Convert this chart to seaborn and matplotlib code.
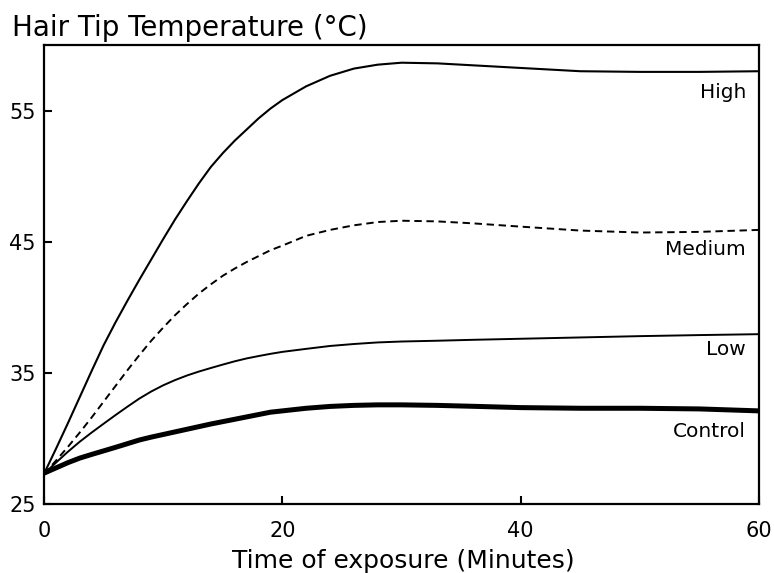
import matplotlib
matplotlib.use("Agg")
import matplotlib.pyplot as plt
import seaborn as sns
import pandas as pd

# ---- data ----
minutes = [0, 1, 2, 3, 4, 5, 6, 7, 8, 9, 10, 11, 12, 13, 14, 15, 16, 17, 18, 19, 20,
           22, 24, 26, 28, 30, 33, 36, 40, 45, 50, 55, 60]
high    = [27.3, 29.2, 31.15, 33.15, 35.15, 37.1, 38.85, 40.5, 42.1, 43.65, 45.2, 46.7, 48.1,
           49.45, 50.7, 51.75, 52.7, 53.55, 54.4, 55.15, 55.8,
           56.85, 57.65, 58.2, 58.5, 58.65, 58.6, 58.45, 58.25, 58.0, 57.95, 57.95, 58.0]
medium  = [27.3, 28.3, 29.35, 30.45, 31.6, 32.8, 34.0, 35.2, 36.35, 37.45, 38.45, 39.4, 40.25,
           41.05, 41.75, 42.4, 42.95, 43.45, 43.9, 44.35, 44.7,
           45.45, 45.9, 46.25, 46.5, 46.6, 46.55, 46.4, 46.15, 45.85, 45.7, 45.75, 45.9]
low     = [27.3, 28.15, 28.98, 29.75, 30.45, 31.12, 31.78, 32.42, 33.04, 33.58, 34.05, 34.45, 34.8,
           35.1, 35.37, 35.63, 35.88, 36.1, 36.28, 36.45, 36.6,
           36.83, 37.05, 37.2, 37.32, 37.39, 37.45, 37.52, 37.6, 37.7, 37.8, 37.88, 37.95]
control = [27.35, 27.75, 28.15, 28.5, 28.78, 29.05, 29.32, 29.6, 29.88, 30.1, 30.3, 30.5, 30.7,
           30.9, 31.1, 31.28, 31.46, 31.64, 31.82, 32.0, 32.1,
           32.3, 32.44, 32.52, 32.56, 32.56, 32.52, 32.45, 32.35, 32.3, 32.3, 32.25, 32.1]

series_names = ["High", "Medium", "Low", "Control"]
label_y = [56.4, 44.4, 36.8, 30.5]

x_ticks = [0, 20, 40, 60]
y_ticks = [25, 35, 45, 55]

title_text = "Hair Tip Temperature (\u00b0C)"
xlabel_text = "Time of exposure (Minutes)"

# ---- style ----
sns.set_style("white")
plt.rcParams["font.family"] = ["DejaVu Sans"]
plt.rcParams["text.color"] = "black"

fig = plt.figure(figsize=(7.74, 5.73), dpi=100)
ax = fig.add_axes([44 / 774, 1 - 504 / 573, (759 - 44) / 774, (504 - 45) / 573])

df = pd.DataFrame({
    "Minutes": minutes * 4,
    "Temp": high + medium + low + control,
    "Group": sum([[n] * len(minutes) for n in series_names], []),
})

styles = {
    "High": dict(lw=1.5, ls="-"),
    "Medium": dict(lw=1.4, ls=(0, (3.8, 2.4))),
    "Low": dict(lw=1.4, ls="-"),
    "Control": dict(lw=3.6, ls="-"),
}

for name in series_names:
    sub = df[df["Group"] == name]
    st = styles[name]
    sns.lineplot(data=sub, x="Minutes", y="Temp", ax=ax, color="black",
                 linewidth=st["lw"], linestyle=st["ls"], legend=False)

for name, yv in zip(series_names, label_y):
    ax.text(58.9, yv, name, ha="right", va="center", fontsize=14.5, color="black")

ax.set_xlim(0, 60)
ax.set_ylim(25, 60)
ax.set_xticks(x_ticks)
ax.set_yticks(y_ticks)
ax.tick_params(direction="in", length=5.5, width=1.5, labelsize=15, colors="black",
               bottom=True, left=True, top=False, right=False)
ax.tick_params(axis="x", pad=12)
ax.tick_params(axis="y", pad=6)
for s in ax.spines.values():
    s.set_linewidth(1.6)
    s.set_color("black")
    s.set_visible(True)
ax.set_xlabel("")
ax.set_ylabel("")

fig.text(12 / 774, 1 - 28 / 573, title_text, ha="left", va="center", fontsize=20, color="black")
fig.text(403 / 774, 1 - 568 / 573, xlabel_text, ha="center", va="baseline", fontsize=18, color="black")

fig.savefig("out.png", dpi=100, facecolor="white")
